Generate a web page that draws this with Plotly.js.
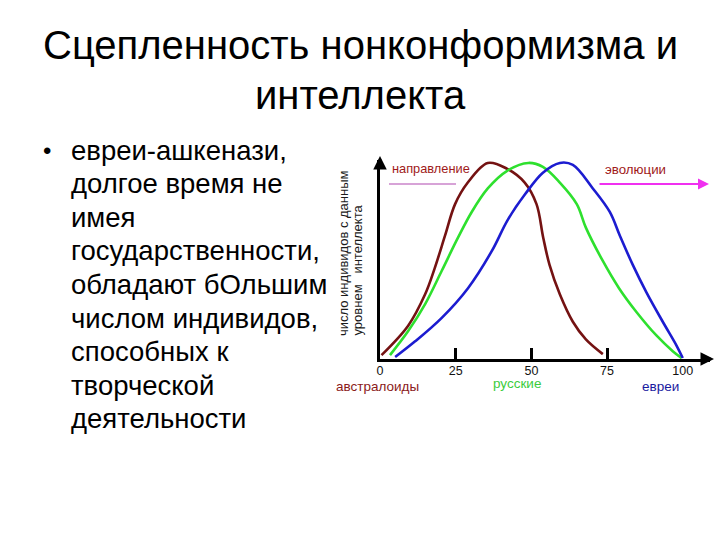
<!DOCTYPE html>
<html>
<head>
<meta charset="utf-8">
<script src="https://cdn.plot.ly/plotly-3.0.1.min.js"></script>
<style>
html,body{margin:0;padding:0;background:#fff;}
#chart{width:720px;height:540px;}
</style>
</head>
<body>
<div id="chart"></div>
<script>
// ---- data ----
const titleLines = ["Сцепленность нонконформизма и", "интеллекта"];
const bulletLines = ["евреи-ашкенази,", "долгое время не", "имея", "государственности,",
  "обладают бОльшим", "числом индивидов,", "способных к", "творческой", "деятельности"];
const yTitleLines = ["число индивидов с данным", "уровнем   интеллекта"];
const tickVals = [0, 25, 50, 75, 100];
const tickText = ["0", "25", "50", "75", "100"];
const markTicks = [25, 50, 75];
const groupNames = ["австралоиды", "русские", "евреи"];
const groupColors = ["#741212", "#2ee02e", "#1c1cd0"];
const groupLabelColors = ["#8a1a1a", "#3ccc3c", "#1a1aa0"];
const evoLabels = ["направление", "эволюции"];

const xAustr = [0.5, 9.3, 14.9, 18, 21.5, 24.8, 29, 35.6, 42, 47.8, 51.7, 53.9, 56, 59.4, 63.7, 68, 73.6];
const yAustr = [2, 17, 33, 46, 63, 79, 90, 100, 97, 90, 79, 62, 48, 33, 19, 10, 2.5];
const xRus = [3.3, 9.2, 14.9, 20.4, 25.8, 30.3, 35.6, 42, 49, 53.8, 59.4, 65, 68, 73.6, 79, 84.7, 91.3, 96.7, 99.6];
const yRus = [2, 14, 28, 45, 62, 75, 87, 96, 100, 98, 90, 79, 67, 50, 36, 24, 12, 4, 0.5];
const xJew = [5, 11.6, 20.4, 29, 36.9, 42.2, 47.9, 53.8, 59.4, 63.7, 70.3, 75.9, 79.2, 83.5, 88, 93.4, 97.9, 100];
const yJew = [1, 9, 21, 36, 55, 71, 84, 95, 100, 99, 87, 75, 63, 48, 34, 19, 7, 0.5];

// ---- layout helpers (pixel -> paper) ----
const L = 380, R = 10, T = 160, B = 181, W = 720, H = 540;
const pw = W - L - R, ph = H - T - B;
const px = v => (v - L) / pw;
const py = v => (H - B - v) / ph;
const FONT = "Liberation Sans, Arial, sans-serif";

const xs = [xAustr, xRus, xJew], ys = [yAustr, yRus, yJew];
const traces = xs.map((x, i) => ({
  x: x, y: ys[i], type: 'scatter', mode: 'lines', name: groupNames[i],
  line: {color: groupColors[i], width: 2.6, shape: 'spline', smoothing: 1},
  cliponaxis: false, hoverinfo: 'skip'
}));
// invisible trace on xaxis2 for tick labels
traces.push({x: tickVals, y: tickVals.map(() => 0), xaxis: 'x2', yaxis: 'y', type: 'scatter',
  mode: 'markers', marker: {opacity: 0}, hoverinfo: 'skip', showlegend: false});

const ann = [];
titleLines.forEach((t, i) => ann.push({text: t, xref: 'paper', yref: 'paper', x: px(360), y: py(45 + i * 50),
  xanchor: 'center', yanchor: 'middle', showarrow: false, font: {family: FONT, size: 40, color: '#000'}}));
ann.push({text: "•", xref: 'paper', yref: 'paper', x: px(47), y: py(150), xanchor: 'center', yanchor: 'middle',
  showarrow: false, font: {family: FONT, size: 24, color: '#000'}});
bulletLines.forEach((t, i) => ann.push({text: t, xref: 'paper', yref: 'paper', x: px(69), y: py(150 + i * 33.6),
  xanchor: 'left', yanchor: 'middle', showarrow: false, font: {family: FONT, size: 27.5, color: '#000'}}));
yTitleLines.forEach((t, i) => ann.push({text: t, xref: 'paper', yref: 'paper', x: px(343 + i * 14), y: py(338),
  xanchor: 'center', yanchor: 'bottom', textangle: -90, showarrow: false,
  font: {family: FONT, size: 13, color: '#1a1a1a'}}));
const glx = [377, 517, 660], gly = [386, 383, 386];
groupNames.forEach((t, i) => ann.push({text: t, xref: 'paper', yref: 'paper', x: px(glx[i]), y: py(gly[i]),
  xanchor: 'center', yanchor: 'middle', showarrow: false, font: {family: FONT, size: 13.5, color: groupLabelColors[i]}}));
ann.push({text: evoLabels[0], xref: 'paper', yref: 'paper', x: px(390), y: py(168), xanchor: 'left', yanchor: 'middle',
  showarrow: false, font: {family: FONT, size: 12.8, color: '#a01a1a'}});
ann.push({text: evoLabels[1], xref: 'paper', yref: 'paper', x: px(603), y: py(169), xanchor: 'left', yanchor: 'middle',
  showarrow: false, font: {family: FONT, size: 13.3, color: '#a01a1a'}});
// evolution arrow
ann.push({text: '', xref: 'paper', yref: 'paper', x: px(709), y: py(184), ax: -111, ay: 0, showarrow: true,
  arrowhead: 2, arrowsize: 1.1, arrowwidth: 2, arrowcolor: '#f030f0'});
// axis arrowheads
ann.push({text: '', xref: 'paper', yref: 'paper', x: px(714), y: py(359), ax: -8, ay: 0, showarrow: true,
  arrowhead: 2, arrowsize: 0.9, arrowwidth: 3, arrowcolor: '#000'});
ann.push({text: '', xref: 'paper', yref: 'paper', x: px(380), y: py(156), ax: 0, ay: 8, showarrow: true,
  arrowhead: 2, arrowsize: 0.9, arrowwidth: 3, arrowcolor: '#000'});

const shapes = [
  {type: 'line', xref: 'paper', yref: 'paper', x0: px(389), x1: px(456), y0: py(184), y1: py(184),
   line: {color: '#b048b0', width: 1.2}}
];

const layout = {
  width: W, height: H, margin: {l: L, r: R, t: T, b: B, pad: 0},
  paper_bgcolor: '#fff', plot_bgcolor: '#fff', showlegend: false,
  xaxis: {range: [0, 109], showgrid: false, zeroline: false, showline: true, linecolor: '#000', linewidth: 3,
    tickmode: 'array', tickvals: markTicks, ticks: 'inside', ticklen: 11, tickwidth: 3, tickcolor: '#000',
    showticklabels: false, fixedrange: true},
  xaxis2: {overlaying: 'x', side: 'bottom', range: [0, 109], showgrid: false, zeroline: false, showline: false,
    tickmode: 'array', tickvals: tickVals, ticktext: tickText, ticks: '', ticklabelstandoff: 2,
    tickfont: {family: FONT, size: 12.5, color: '#111'}, fixedrange: true},
  yaxis: {range: [0, 101.5], showgrid: false, zeroline: false, showline: true, linecolor: '#000', linewidth: 3,
    ticks: '', showticklabels: false, fixedrange: true},
  annotations: ann, shapes: shapes
};

Plotly.newPlot('chart', traces, layout, {staticPlot: true, displayModeBar: false});
</script>
</body>
</html>
